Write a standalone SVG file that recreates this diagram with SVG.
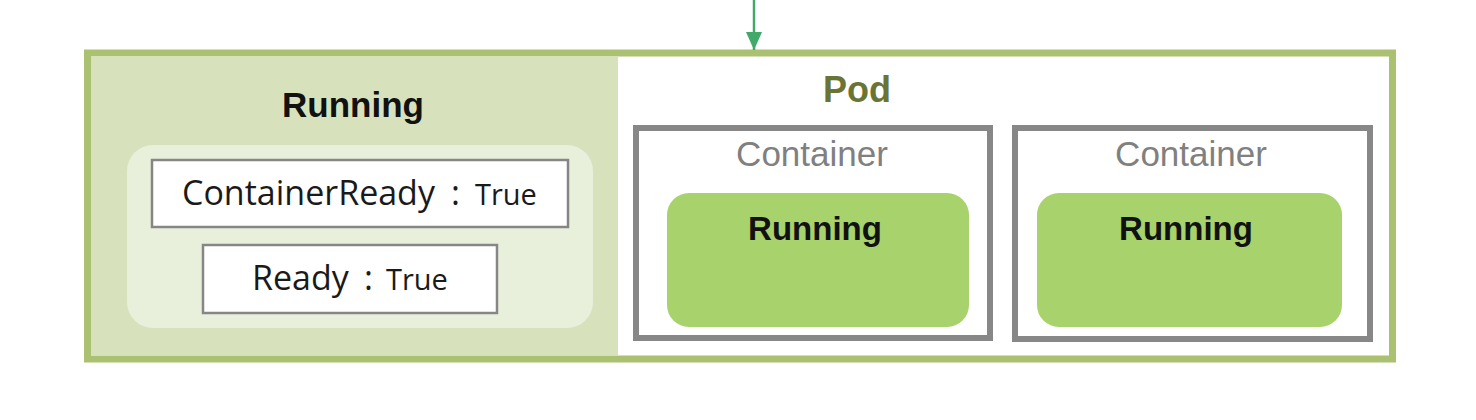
<svg xmlns="http://www.w3.org/2000/svg" width="1476" height="420" viewBox="0 0 1476 420">
<style>
.cond{fill:#ffffff;stroke:#868686;stroke-width:2.5}
.ctr{fill:#ffffff;stroke:#878787;stroke-width:6}
.run{fill:#a8d26c}
.t{font-family:"Open Sans","DejaVu Sans",sans-serif;font-size:34px;fill:#1a1a1a}
.sm{font-size:29px}
.b{font-family:"Liberation Sans",Arial,sans-serif;font-weight:bold;fill:#111111}
.c{font-family:"Liberation Sans",Arial,sans-serif;font-size:35px;fill:#808080}
</style>
<defs>
<marker id="ah" markerWidth="18" markerHeight="16" refX="18" refY="8" orient="auto" markerUnits="userSpaceOnUse" viewBox="0 0 18 16">
<path d="M0,0 L18,8 L0,16 Z" fill="#3faa6a"/>
</marker>
</defs>
<rect width="1476" height="420" fill="#ffffff"/>
<g id="pod">
<rect x="87.5" y="53" width="1305" height="306" fill="#ffffff" stroke="#abc172" stroke-width="7"/>
<rect x="91" y="56.5" width="527" height="299" fill="#d7e2bc"/>
<text x="857" y="102" text-anchor="middle" class="b" font-size="36" style="fill:#6a7434">Pod</text>
</g>
<g id="pod-status">
<text x="353" y="117" text-anchor="middle" class="b" font-size="35">Running</text>
<rect x="127" y="145" width="466" height="183" rx="26" fill="#e8efdb"/>
</g>
<g id="container-ready">
<rect x="152" y="160" width="416" height="67" class="cond"/>
<text x="182" y="205" class="t">ContainerReady<tspan x="451">:</tspan><tspan x="475" class="sm">True</tspan></text>
</g>
<g id="ready">
<rect x="203" y="245" width="294" height="68" class="cond"/>
<text x="252" y="290" class="t">Ready<tspan x="364">:</tspan><tspan x="386" class="sm">True</tspan></text>
</g>
<g id="container1">
<rect x="636" y="128" width="354" height="210" class="ctr"/>
<text x="812" y="166" text-anchor="middle" class="c">Container</text>
<rect x="667" y="193" width="302" height="134" rx="22" class="run"/>
<text x="815" y="240" text-anchor="middle" class="b" font-size="33">Running</text>
</g>
<g id="container2">
<rect x="1015" y="128" width="355" height="211" class="ctr"/>
<text x="1191" y="166" text-anchor="middle" class="c">Container</text>
<rect x="1037" y="193" width="305" height="134" rx="22" class="run"/>
<text x="1186" y="240" text-anchor="middle" class="b" font-size="33">Running</text>
</g>
<g id="connectors">
<line x1="754" y1="0" x2="754" y2="50" stroke="#3faa6a" stroke-width="2.5" marker-end="url(#ah)"/>
</g>
</svg>
